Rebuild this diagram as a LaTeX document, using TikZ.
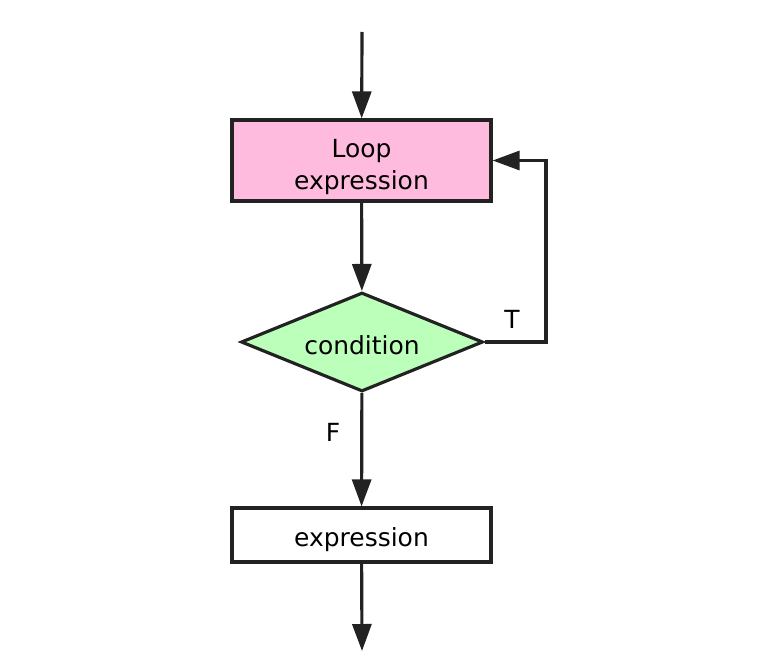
\documentclass[tikz,border=0pt]{standalone}
\usepackage{fontspec}
\setmainfont{DejaVu Sans}
\usetikzlibrary{arrows.meta,shapes.geometric}
\definecolor{ink}{HTML}{222222}
\definecolor{pinkfill}{HTML}{FFBBDD}
\definecolor{greenfill}{HTML}{BBFFBB}

\begin{document}
\begin{tikzpicture}[font=\fontsize{14.2}{17}\selectfont,text=black,
    flow/.style={draw=ink,line width=1.8pt,-{Triangle[length=0.54cm,width=0.38cm]}},
    stepbox/.style={draw=ink,line width=1.8pt,minimum width=5.18cm,
      align=center,inner sep=0pt},
    decision/.style={diamond,draw=ink,line width=1.8pt,fill=greenfill,
      minimum width=4.84cm,minimum height=1.98cm,aspect=2.44,inner sep=0pt}]
  \useasboundingbox (0,0) rectangle (15.6,13.24);

  % entry and exit of the loop
  \coordinate (in) at (7.24,12.6);
  \coordinate (out) at (7.24,0.22);

  \node[stepbox,fill=pinkfill,minimum height=1.62cm,text height=36.5pt]
    (loop) at (7.23,10.03) {Loop\\[1.7pt]expression};
  \node[decision,text height=14.2pt] (cond) at (7.24,6.4) {condition};
  \node[stepbox,fill=white,minimum height=1.08cm,text height=16.5pt,
    text depth=3.5pt] (expr) at (7.23,2.54) {expression};

  \draw[flow] (in) -- (loop);
  \draw[flow] (loop) -- (cond);
  \draw[flow] (cond) -- (expr);
  \draw[flow] (expr) -- (out);

  % back edge when the condition holds
  \draw[flow] (cond.east) -- (10.92,6.4) |- (loop.east);
  \node at (10.24,6.86) {T};
  \node at (6.66,4.6) {F};
\end{tikzpicture}
\end{document}
